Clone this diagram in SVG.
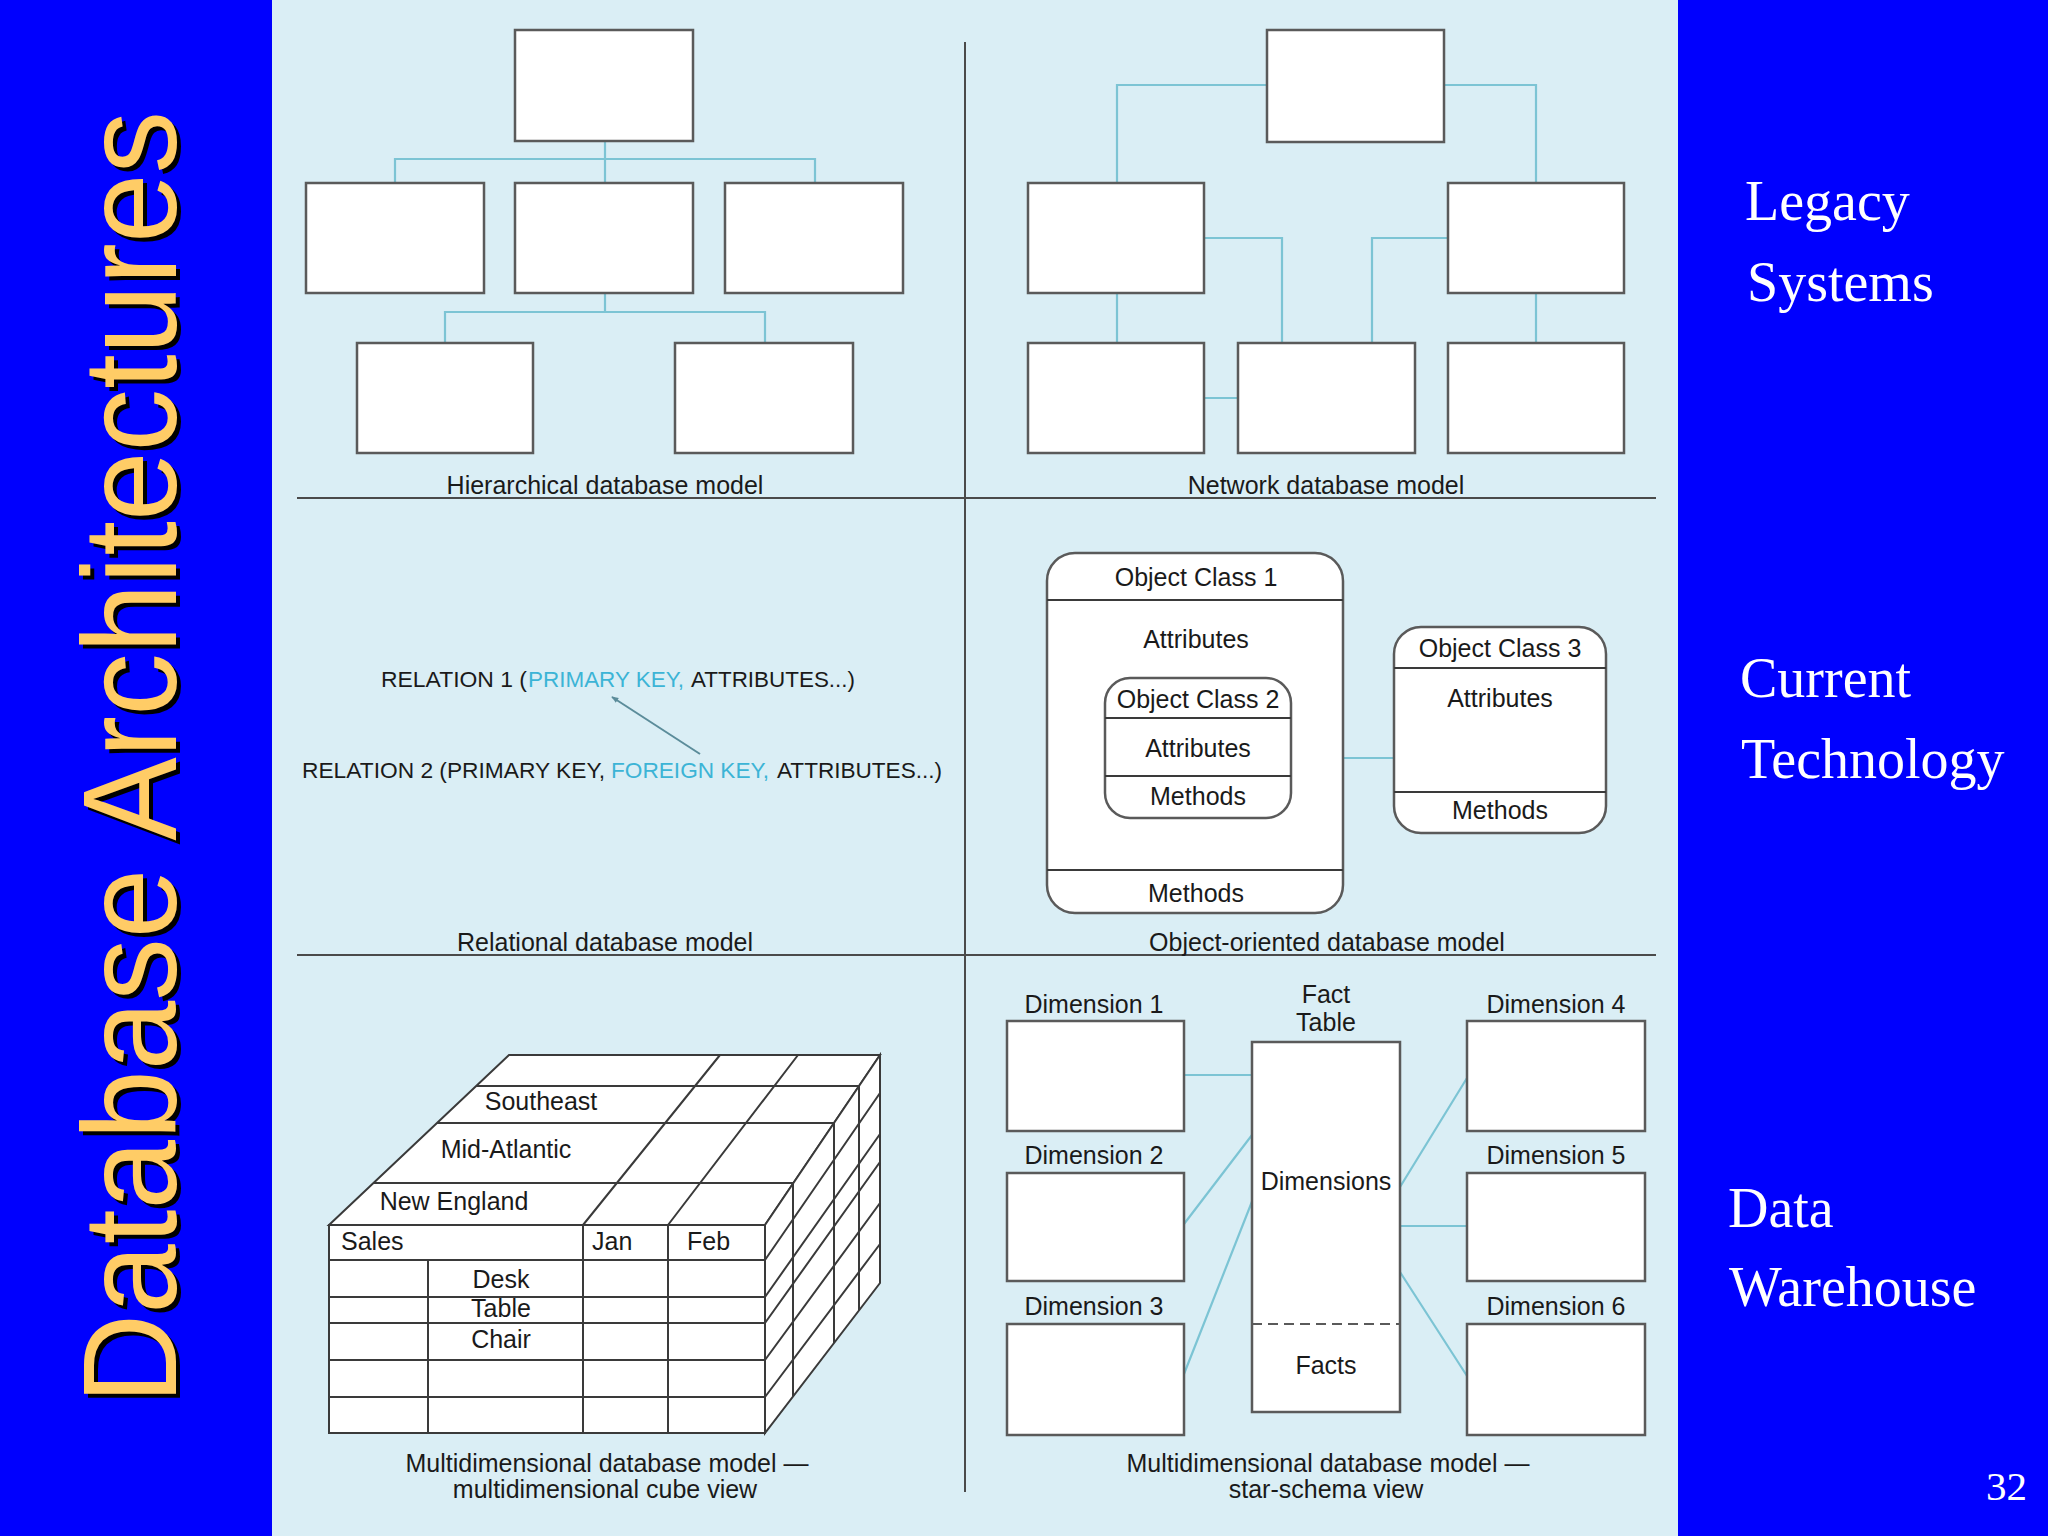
<svg xmlns="http://www.w3.org/2000/svg" width="2048" height="1536" viewBox="0 0 2048 1536">
<defs>
<style>
.t{font-family:"Liberation Sans",Arial,sans-serif;fill:#1a1a1a;font-size:25px}
.r{font-size:22.4px}
.m{text-anchor:middle}
.box{fill:#fff;stroke:#5a5a5a;stroke-width:2.5}
.cn{fill:none;stroke:#7cc4d4;stroke-width:2.2}
.div{fill:none;stroke:#4a4a4a;stroke-width:2}
.cb{fill:#fff;stroke:#3a3a3a;stroke-width:2}
.cl{fill:none;stroke:#3a3a3a;stroke-width:2}
.side{font-family:"Liberation Serif","Times New Roman",serif;fill:#fff;font-size:56px}
.key{fill:#3cb4d6}
</style>
<marker id="ah" viewBox="0 0 10 10" refX="9" refY="5" markerWidth="7" markerHeight="7" orient="auto" markerUnits="userSpaceOnUse">
<path d="M0,1 L10,5 L0,9 z" fill="#5b8c9a"/>
</marker>
</defs>
<rect x="0" y="0" width="2048" height="1536" fill="#0000fe"/>
<rect x="272" y="0" width="1406" height="1536" fill="#daeef5"/>

<g id="title">
<text x="0" y="0" transform="translate(180,1408) rotate(-90)" font-family="'Liberation Sans',Arial,sans-serif" font-size="133" fill="#000" textLength="1293" lengthAdjust="spacingAndGlyphs">Database Architectures</text>
<text x="0" y="0" transform="translate(176,1404) rotate(-90)" font-family="'Liberation Sans',Arial,sans-serif" font-size="133" fill="#ffcc66" textLength="1293" lengthAdjust="spacingAndGlyphs">Database Architectures</text>
</g>

<g id="side-labels">
<text class="side" x="1745" y="220">Legacy</text>
<text class="side" x="1747" y="301">Systems</text>
<text class="side" x="1740" y="697">Current</text>
<text class="side" x="1741" y="778">Technology</text>
<text class="side" x="1728" y="1227">Data</text>
<text class="side" x="1729" y="1306">Warehouse</text>
<text x="2027" y="1500" font-family="'Liberation Serif','Times New Roman',serif" font-size="41" fill="#fff" text-anchor="end">32</text>
</g>

<g id="dividers">
<line class="div" x1="965" y1="42" x2="965" y2="1492"/>
<line class="div" x1="297" y1="498" x2="1656" y2="498"/>
<line class="div" x1="297" y1="955" x2="1656" y2="955"/>
</g>

<g id="connectors">
<path class="cn" d="M605,141 V183 M395,183 V159 H815 V183 M605,293 V312 M445,343 V312 H765 V343"/>
<path class="cn" d="M1267,85 H1117 V183 M1444,85 H1536 V183 M1204,238 H1282 V343 M1448,238 H1372 V343 M1117,293 V343 M1536,293 V343 M1204,398 H1238"/>
<line x1="700" y1="754" x2="612" y2="697" stroke="#5b8c9a" stroke-width="2" marker-end="url(#ah)"/>
<path class="cn" d="M1291,758 H1394"/>
<path class="cn" d="M1184,1075 H1252 M1184,1224 L1252,1135 M1184,1374 L1253,1199 M1400,1187 L1467,1078 M1400,1226 H1467 M1400,1272 L1467,1376"/>
</g>

<g id="hierarchical">
<rect id="h-root" class="box" x="515" y="30" width="178" height="111"/>
<rect id="h-a" class="box" x="306" y="183" width="178" height="110"/>
<rect id="h-b" class="box" x="515" y="183" width="178" height="110"/>
<rect id="h-c" class="box" x="725" y="183" width="178" height="110"/>
<rect id="h-d" class="box" x="357" y="343" width="176" height="110"/>
<rect id="h-e" class="box" x="675" y="343" width="178" height="110"/>
<text class="t m" x="605" y="494">Hierarchical database model</text>
</g>

<g id="network">
<rect id="n-root" class="box" x="1267" y="30" width="177" height="112"/>
<rect id="n-a" class="box" x="1028" y="183" width="176" height="110"/>
<rect id="n-b" class="box" x="1448" y="183" width="176" height="110"/>
<rect id="n-c" class="box" x="1028" y="343" width="176" height="110"/>
<rect id="n-d" class="box" x="1238" y="343" width="177" height="110"/>
<rect id="n-e" class="box" x="1448" y="343" width="176" height="110"/>
<text class="t m" x="1326" y="494">Network database model</text>
</g>

<g id="relational">
<text class="t r" x="381" y="687" textLength="146" lengthAdjust="spacingAndGlyphs">RELATION 1 (</text>
<text class="t r key" x="528" y="687" textLength="156" lengthAdjust="spacingAndGlyphs">PRIMARY KEY,</text>
<text class="t r" x="691" y="687" textLength="164" lengthAdjust="spacingAndGlyphs">ATTRIBUTES...)</text>
<text class="t r" x="302" y="778" textLength="303" lengthAdjust="spacingAndGlyphs">RELATION 2 (PRIMARY KEY,</text>
<text class="t r key" x="611" y="778" textLength="158" lengthAdjust="spacingAndGlyphs">FOREIGN KEY,</text>
<text class="t r" x="777" y="778" textLength="165" lengthAdjust="spacingAndGlyphs">ATTRIBUTES...)</text>
<text class="t m" x="605" y="951">Relational database model</text>
</g>

<g id="object-oriented">
<g id="oc1">
<rect class="box" x="1047" y="553" width="296" height="360" rx="28" ry="28"/>
<line class="cl" x1="1047" y1="600" x2="1343" y2="600" stroke="#5a5a5a"/>
<line class="cl" x1="1047" y1="870" x2="1343" y2="870" stroke="#5a5a5a"/>
<text class="t m" x="1196" y="586" font-size="25.5">Object Class 1</text>
<text class="t m" x="1196" y="648" font-size="25.5">Attributes</text>
<text class="t m" x="1196" y="902" font-size="25.5">Methods</text>
</g>
<g id="oc2">
<rect class="box" x="1105" y="678" width="186" height="140" rx="25" ry="25"/>
<line class="cl" x1="1105" y1="718" x2="1291" y2="718" stroke="#5a5a5a"/>
<line class="cl" x1="1105" y1="776" x2="1291" y2="776" stroke="#5a5a5a"/>
<text class="t m" x="1198" y="708" font-size="23">Object Class 2</text>
<text class="t m" x="1198" y="757" font-size="22.5">Attributes</text>
<text class="t m" x="1198" y="805" font-size="22.5">Methods</text>
</g>
<g id="oc3">
<rect class="box" x="1394" y="627" width="212" height="206" rx="27" ry="27"/>
<line class="cl" x1="1394" y1="668" x2="1606" y2="668" stroke="#5a5a5a"/>
<line class="cl" x1="1394" y1="792" x2="1606" y2="792" stroke="#5a5a5a"/>
<text class="t m" x="1500" y="657" font-size="23">Object Class 3</text>
<text class="t m" x="1500" y="707" font-size="25.5">Attributes</text>
<text class="t m" x="1500" y="819" font-size="25.5">Methods</text>
</g>
<text class="t m" x="1327" y="951">Object-oriented database model</text>
</g>

<g id="cube">
<polygon class="cb" points="329,1225 509,1055 880,1055 765,1225"/>
<polygon class="cb" points="765,1225 880,1055 880,1283 765,1433"/>
<rect class="cb" x="329" y="1225" width="436" height="208"/>
<path class="cl" d="M373.5,1183 H793 M437,1123 H834 M476,1086 H859 M583,1225 L720,1055 M668,1225 L798,1055"/>
<path class="cl" d="M793,1183.5 V1396.5 M834,1123 V1343 M859,1086 V1310 M765,1260 L880,1093 M765,1297 L880,1134 M765,1323 L880,1162 M765,1360 L880,1203 M765,1397 L880,1244"/>
<path class="cl" d="M329,1260 H765 M329,1297 H765 M329,1323 H765 M329,1360 H765 M329,1397 H765 M428,1260 V1433 M583,1225 V1433 M668,1225 V1433"/>
<text class="t m" x="541" y="1110">Southeast</text>
<text class="t m" x="506" y="1158">Mid-Atlantic</text>
<text class="t m" x="454" y="1210">New England</text>
<text class="t" x="341" y="1250" font-size="24">Sales</text>
<text class="t" x="592" y="1250" font-size="24">Jan</text>
<text class="t" x="687" y="1250" font-size="24">Feb</text>
<text class="t m" x="501" y="1288" font-size="24">Desk</text>
<text class="t m" x="501" y="1317" font-size="24">Table</text>
<text class="t m" x="501" y="1348" font-size="24">Chair</text>
<text class="t m" x="607" y="1472">Multidimensional database model —</text>
<text class="t m" x="605" y="1498">multidimensional cube view</text>
</g>

<g id="star-schema">
<g id="dim1"><rect class="box" x="1007" y="1021" width="177" height="110"/><text class="t m" x="1094" y="1013">Dimension 1</text></g>
<g id="dim2"><rect class="box" x="1007" y="1173" width="177" height="108"/><text class="t m" x="1094" y="1164">Dimension 2</text></g>
<g id="dim3"><rect class="box" x="1007" y="1324" width="177" height="111"/><text class="t m" x="1094" y="1315">Dimension 3</text></g>
<g id="dim4"><rect class="box" x="1467" y="1021" width="178" height="110"/><text class="t m" x="1556" y="1013">Dimension 4</text></g>
<g id="dim5"><rect class="box" x="1467" y="1173" width="178" height="108"/><text class="t m" x="1556" y="1164">Dimension 5</text></g>
<g id="dim6"><rect class="box" x="1467" y="1324" width="178" height="111"/><text class="t m" x="1556" y="1315">Dimension 6</text></g>
<g id="fact-table">
<rect class="box" x="1252" y="1042" width="148" height="370"/>
<line x1="1252" y1="1324" x2="1400" y2="1324" stroke="#5a5a5a" stroke-width="2" stroke-dasharray="10,6"/>
<text class="t m" x="1326" y="1003">Fact</text>
<text class="t m" x="1326" y="1031">Table</text>
<text class="t m" x="1326" y="1190">Dimensions</text>
<text class="t m" x="1326" y="1374">Facts</text>
</g>
<text class="t m" x="1328" y="1472">Multidimensional database model —</text>
<text class="t m" x="1326" y="1498">star-schema view</text>
</g>
</svg>
